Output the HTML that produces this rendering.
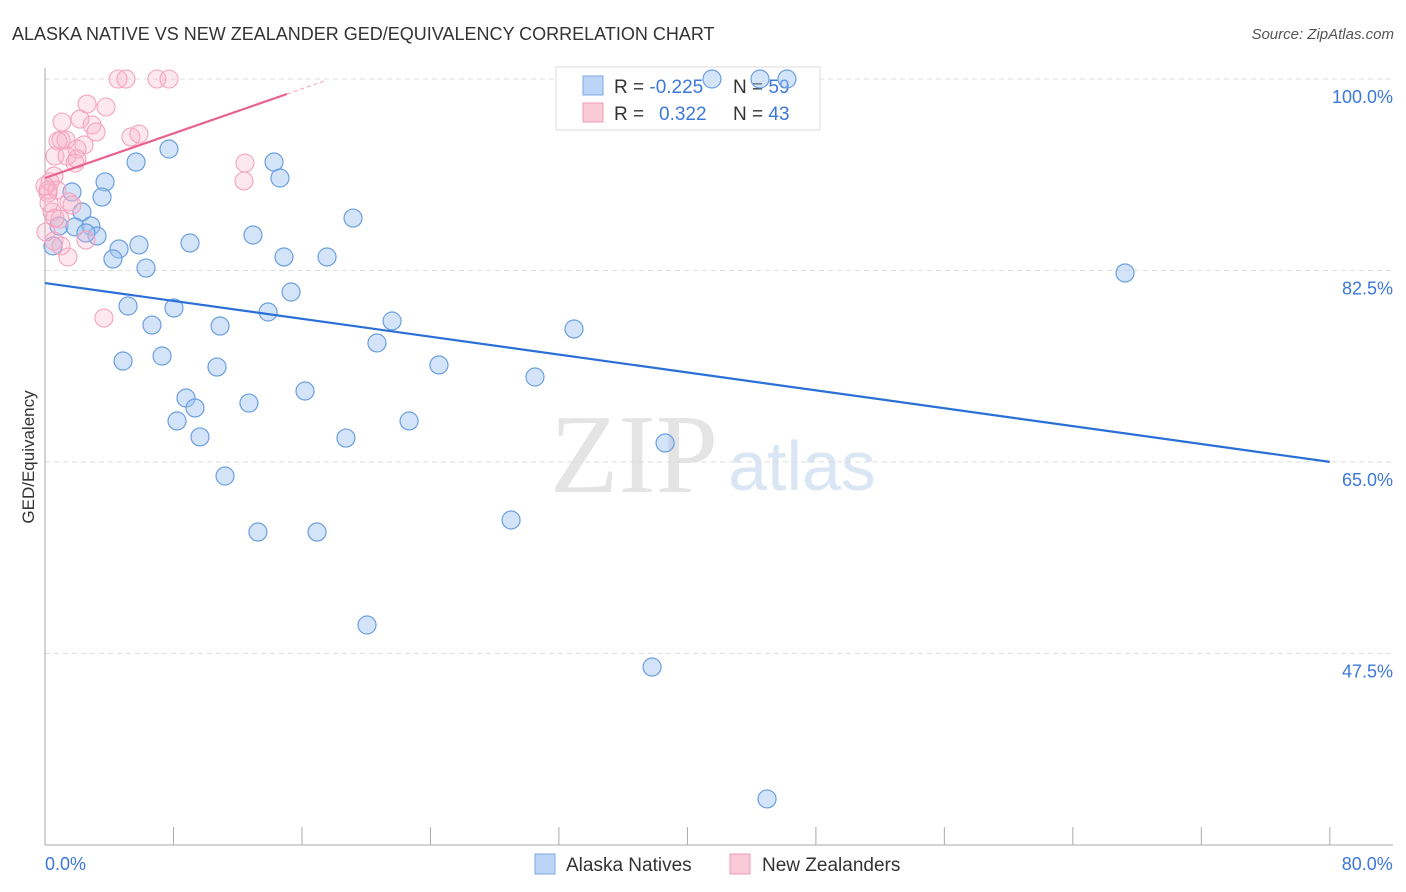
<!DOCTYPE html>
<html><head><meta charset="utf-8"><style>
body{margin:0;background:#fff;font-family:"Liberation Sans",sans-serif}
svg{display:block}
</style></head><body>
<svg id="chart" width="1406" height="892">
<text x="12" y="40" font-size="18" fill="#333">ALASKA NATIVE VS NEW ZEALANDER GED/EQUIVALENCY CORRELATION CHART</text>
<text x="1394" y="39" font-size="15" fill="#555" font-style="italic" text-anchor="end">Source: ZipAtlas.com</text>
<text x="634" y="492" font-size="112" fill="#e4e4e4" font-family="Liberation Serif,serif" text-anchor="middle">ZIP</text>
<text x="802" y="490" font-size="70" fill="#dbe6f5" text-anchor="middle">atlas</text>
<g id="grid"></g>
<g>
<rect x="556" y="67" width="264" height="63" fill="#fff" stroke="#ddd"/>
<rect x="583" y="76" width="20" height="19" fill="#bcd4f5" stroke="#7aa7e6"/>
<rect x="583" y="103" width="20" height="19" fill="#fbcad9" stroke="#f09ab5"/>
<text x="614" y="93" font-size="19" fill="#333">R = <tspan fill="#3b78d8">-0.225</tspan></text>
<text x="733" y="93" font-size="19" fill="#333">N = <tspan fill="#3b78d8">59</tspan></text>
<text x="614" y="120" font-size="19" fill="#333">R = <tspan fill="#3b78d8" x="659">0.322</tspan></text>
<text x="733" y="120" font-size="19" fill="#333">N = <tspan fill="#3b78d8">43</tspan></text>
</g>
<g id="marks"></g>
<text transform="translate(34,457) rotate(-90)" font-size="17" fill="#333" text-anchor="middle">GED/Equivalency</text>
<g>
<rect x="535" y="854" width="20" height="20" fill="#bcd4f5" stroke="#7aa7e6"/>
<text x="566" y="871" font-size="19" fill="#333">Alaska Natives</text>
<rect x="730" y="854" width="20" height="20" fill="#fbcad9" stroke="#f09ab5"/>
<text x="762" y="871" font-size="19" fill="#333">New Zealanders</text>
</g>
</svg>
<script>
const yTicks=[100,82.5,65,47.5];
const yTickLabels=["100.0%","82.5%","65.0%","47.5%"];
const xTickLabels=["0.0%","80.0%"];
const alaskaX=[41.53,44.52,46.20,5.67,7.72,14.26,14.63,3.74,3.55,1.68,2.30,19.18,0.87,1.87,2.86,3.24,2.55,12.95,5.85,9.03,4.61,0.50,4.23,14.88,17.56,6.29,67.25,15.32,5.17,8.03,13.89,6.66,10.90,21.61,32.94,20.67,4.86,7.29,10.71,24.53,30.51,16.19,8.78,9.34,12.70,8.22,22.67,9.65,18.74,38.61,11.21,29.02,13.26,16.94,20.05,37.80,44.96];
const alaskaY=[100,100,100,92.41,93.60,92.41,90.95,90.59,89.21,89.67,87.84,87.29,86.56,86.47,86.56,85.65,85.92,85.74,84.83,85.01,84.46,84.74,83.55,83.73,83.73,82.72,82.27,80.53,79.25,79.07,78.70,77.51,77.42,77.88,77.15,75.87,74.22,74.68,73.67,73.86,72.76,71.48,70.84,69.93,70.38,68.74,68.74,67.28,67.18,66.73,63.71,59.69,58.59,58.59,50.09,46.25,34.19];
const nzX=[4.55,5.04,6.97,7.72,2.62,3.80,1.06,2.18,2.93,3.18,5.35,5.85,1.00,1.31,0.81,2.43,1.99,0.62,1.37,1.87,1.99,12.45,12.39,0.56,0.31,0.19,0.75,1.49,1.68,0.44,0.93,0.56,1.00,1.43,2.55,3.67,0.19,0,0.62,0.06,0.25];
const nzY=[100,100,100,100,97.71,97.44,96.07,96.34,95.80,95.16,94.70,94.97,94.42,94.42,94.33,93.97,93.60,92.96,92.96,92.32,92.69,92.32,90.68,91.13,90.59,89.85,89.85,88.76,88.48,87.84,87.20,85.19,84.74,83.73,85.28,78.15,89.58,90.22,87.29,86.01,88.67];
const alaskaTrend=[81.35,65.0];
const nzTrend=[90.95,98.63];
const sx=v=>45+v*16.06, sy=v=>79+(100-v)*10.94;
const NS="http://www.w3.org/2000/svg";
function mk(t,a,p){const e=document.createElementNS(NS,t);for(const k in a)e.setAttribute(k,a[k]);p.appendChild(e);return e;}
const g=document.getElementById('grid'), m=document.getElementById('marks');
yTicks.forEach((v,i)=>{
 const l=mk('line',{x1:45,x2:1393,y1:sy(v),y2:sy(v),stroke:'#ddd','stroke-dasharray':'5,4'},g);
 
 
 const t=mk('text',{x:1393,y:sy(v)+24,'font-size':18,fill:'#3b78d8','text-anchor':'end'},g);
 t.textContent=yTickLabels[i];
 
 
});
const ax=mk('line',{x1:45,x2:45,y1:68,y2:845,stroke:'#aaa'},g);


const bx=mk('line',{x1:45,x2:1393,y1:845,y2:845,stroke:'#aaa'},g);


for(let i=0;i<=10;i++){const t=mk('line',{x1:sx(i*8),x2:sx(i*8),y1:827,y2:845,stroke:'#aaa'},g);
 
 }
[[0,'start'],[80,'end']].forEach((p,i)=>{const t=mk('text',{x:sx(p[0])+(i?63:0),y:870,'font-size':18,fill:'#3b78d8','text-anchor':p[1]},g);
 t.textContent=xTickLabels[i];
 
 });
alaskaX.forEach((x,i)=>{const c=mk('circle',{cx:sx(x),cy:sy(alaskaY[i]),r:(x===0?14:9),fill:'rgba(160,195,240,0.45)',stroke:'#6a9fe0','stroke-width':1.2},m);
 
 });
nzX.forEach((x,i)=>{const c=mk('circle',{cx:sx(x),cy:sy(nzY[i]),r:9,fill:'rgba(247,180,203,0.3)',stroke:'#f4a3bd','stroke-width':1.1},m);
 
 });
const bl=mk('line',{x1:sx(0),y1:sy(alaskaTrend[0]),x2:sx(80),y2:sy(alaskaTrend[1]),stroke:'#2a6fd6','stroke-width':2.2},m);


const slope=(nzTrend[1]-nzTrend[0])/15.07;
const pl=mk('line',{x1:sx(0),y1:sy(nzTrend[0]),x2:sx(15.07),y2:sy(nzTrend[1]),stroke:'#e8628e','stroke-width':2.2},m);


const pd=mk('line',{x1:sx(15.07),y1:sy(nzTrend[1]),x2:sx(17.5),y2:sy(nzTrend[0]+slope*17.5),stroke:'#f0a0ba','stroke-width':1,'stroke-dasharray':'4,3'},m);


</script>
</body></html>
